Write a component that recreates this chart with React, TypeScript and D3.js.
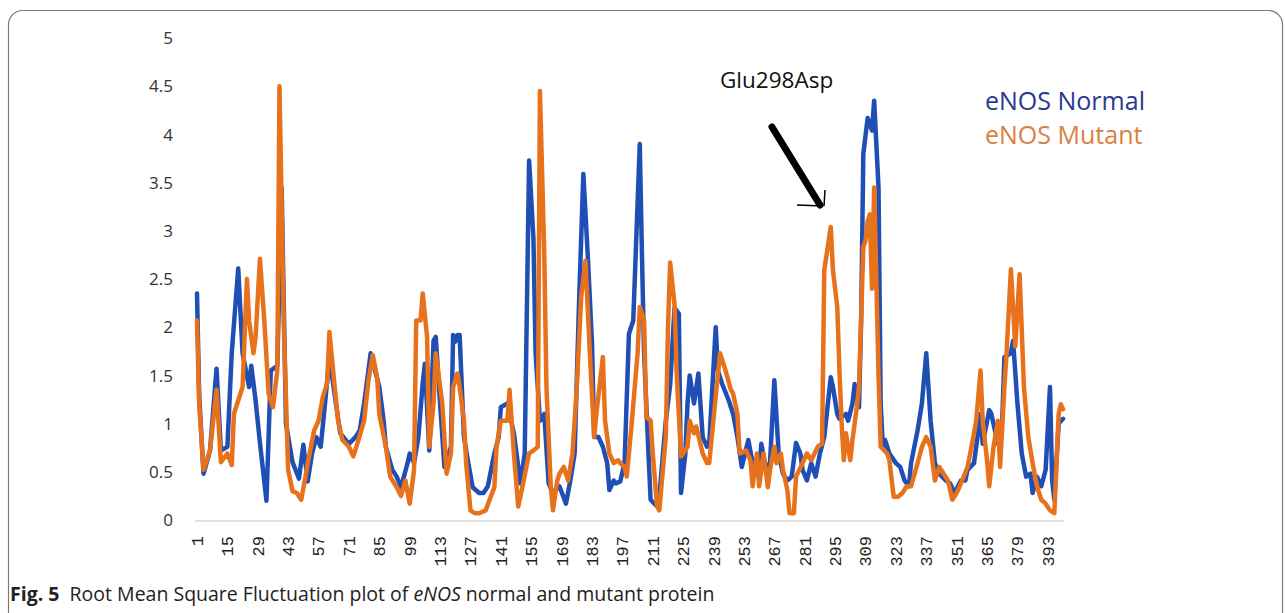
import React, { useRef, useEffect } from "react";
import * as d3 from "d3";

// residue numbers and RMSF values (nm)
const normalResidue = [
  1, 2, 4, 7, 10, 12, 15, 17, 20, 22, 25, 26, 28, 30, 33, 35, 38, 40, 42, 45,
  48, 50, 52, 54, 56, 58, 60, 62, 65, 67, 71, 74, 76, 78, 81, 85, 87, 88, 91, 93,
  95, 98, 99, 101, 103, 105, 106, 108, 110, 111, 113, 115, 118, 119, 120, 121, 122, 124, 126, 128,
  131, 133, 135, 138, 140, 141, 144, 146, 147, 150, 152, 154, 156, 157, 159, 161, 163, 165, 168, 171,
  173, 175, 177, 179, 181, 183, 184, 186, 188, 190, 191, 193, 194, 196, 198, 200, 202, 205, 206, 207,
  209, 210, 213, 214, 217, 219, 221, 223, 224, 226, 227, 228, 230, 232, 234, 236, 237, 240, 241, 243,
  246, 248, 250, 252, 255, 257, 260, 261, 263, 265, 267, 269, 271, 273, 275, 277, 279, 280, 282, 284,
  286, 288, 290, 293, 294, 296, 297, 300, 301, 303, 304, 306, 307, 308, 310, 312, 313, 315, 316, 317,
  318, 320, 323, 325, 327, 329, 330, 333, 335, 337, 339, 341, 343, 346, 348, 350, 353, 355, 356, 359,
  360, 362, 363, 366, 367, 370, 372, 373, 376, 377, 379, 381, 383, 385, 386, 388, 390, 392, 394, 395,
  396, 398, 400,
];
const normalRmsf = [
  2.35, 1.3, 0.48, 0.72, 1.57, 0.72, 0.76, 1.73, 2.61, 1.73, 1.38, 1.6, 1.24, 0.8, 0.2, 1.55, 1.6, 3.45, 1.0, 0.6,
  0.43, 0.78, 0.4, 0.69, 0.86, 0.76, 1.21, 1.69, 1.21, 0.9, 0.79, 0.86, 0.93, 1.21, 1.73, 1.38, 1.03, 0.76, 0.52, 0.45,
  0.34, 0.59, 0.69, 0.59, 0.86, 1.42, 1.62, 0.72, 1.86, 1.9, 1.21, 0.55, 0.76, 1.92, 1.85, 1.92, 1.92, 0.86, 0.59, 0.34,
  0.28, 0.28, 0.35, 0.69, 0.86, 1.17, 1.21, 1.0, 0.9, 0.38, 0.69, 3.73, 2.93, 1.73, 1.03, 1.1, 0.38, 0.28, 0.35, 0.17,
  0.41, 0.69, 2.24, 3.59, 2.76, 1.83, 0.86, 0.86, 0.76, 0.59, 0.31, 0.41, 0.38, 0.4, 0.59, 1.93, 2.07, 3.9, 2.76, 1.73,
  0.69, 0.21, 0.14, 0.24, 1.03, 1.4, 2.2, 2.14, 0.28, 0.69, 1.21, 1.5, 1.21, 1.52, 0.86, 0.76, 0.79, 2.0, 1.55, 1.41,
  1.24, 1.1, 0.86, 0.55, 0.83, 0.59, 0.48, 0.79, 0.55, 0.59, 1.45, 0.69, 0.48, 0.41, 0.45, 0.8, 0.69, 0.52, 0.41, 0.59,
  0.45, 0.69, 0.86, 1.48, 1.38, 1.1, 1.05, 1.1, 1.03, 1.21, 1.41, 1.17, 2.07, 3.8, 4.17, 4.04, 4.35, 3.45, 1.2, 0.76,
  0.83, 0.69, 0.59, 0.55, 0.41, 0.35, 0.59, 0.93, 1.21, 1.73, 1.03, 0.59, 0.48, 0.41, 0.38, 0.28, 0.41, 0.41, 0.52, 0.59,
  0.76, 1.1, 0.79, 1.14, 1.1, 0.79, 1.03, 1.69, 1.73, 1.86, 1.21, 0.69, 0.45, 0.48, 0.28, 0.45, 0.35, 0.52, 1.38, 0.41,
  0.21, 1.0, 1.05,
];

const mutantResidue = [
  1, 2, 4, 7, 10, 12, 15, 17, 18, 22, 24, 25, 27, 28, 30, 32, 34, 36, 38, 39,
  41, 43, 45, 47, 49, 51, 52, 55, 57, 59, 61, 62, 64, 66, 68, 71, 73, 75, 78, 80,
  82, 84, 85, 88, 90, 93, 95, 97, 99, 101, 102, 104, 105, 107, 108, 110, 111, 114, 116, 118,
  119, 121, 122, 124, 125, 127, 129, 131, 134, 138, 139, 141, 144, 145, 147, 149, 151, 154, 156, 158,
  159, 161, 162, 164, 165, 167, 168, 170, 172, 174, 176, 178, 180, 182, 184, 185, 188, 189, 191, 193,
  195, 196, 198, 199, 201, 204, 205, 207, 208, 210, 211, 213, 214, 217, 218, 219, 221, 222, 224, 225,
  227, 228, 230, 231, 234, 236, 237, 240, 242, 244, 247, 248, 250, 251, 254, 256, 257, 259, 260, 262,
  264, 265, 267, 268, 270, 271, 273, 274, 276, 277, 280, 282, 284, 287, 289, 290, 293, 294, 296, 297,
  298, 299, 300, 302, 303, 305, 306, 308, 309, 310, 311, 312, 313, 314, 315, 316, 319, 320, 322, 324,
  326, 328, 330, 333, 335, 337, 339, 341, 343, 345, 347, 349, 351, 353, 356, 357, 359, 360, 362, 363,
  365, 366, 368, 370, 371, 373, 374, 376, 378, 380, 382, 384, 386, 388, 390, 392, 394, 396, 398, 399,
  400,
];
const mutantRmsf = [
  2.07, 1.2, 0.52, 0.72, 1.35, 0.6, 0.69, 0.57, 1.1, 1.38, 2.5, 2.07, 1.73, 1.9, 2.71, 2.07, 1.31, 1.17, 1.55, 4.5,
  2.0, 0.52, 0.3, 0.28, 0.21, 0.45, 0.59, 0.93, 1.03, 1.28, 1.42, 1.95, 1.48, 1.03, 0.83, 0.76, 0.66, 0.8, 1.03, 1.45,
  1.71, 1.48, 1.1, 0.76, 0.45, 0.34, 0.25, 0.41, 0.17, 0.52, 2.07, 2.07, 2.35, 1.9, 0.76, 1.21, 1.73, 1.21, 0.48, 0.69,
  1.38, 1.52, 1.38, 1.03, 0.59, 0.1, 0.07, 0.07, 0.1, 0.34, 0.76, 1.03, 1.03, 1.35, 0.69, 0.14, 0.35, 0.69, 0.72, 0.76,
  4.45, 2.76, 1.38, 0.35, 0.1, 0.41, 0.48, 0.55, 0.41, 0.69, 1.38, 2.31, 2.69, 1.73, 0.86, 1.1, 1.69, 1.03, 0.69, 0.59,
  0.62, 0.59, 0.55, 0.45, 0.93, 1.73, 2.21, 2.07, 1.07, 1.03, 0.69, 0.14, 0.1, 0.86, 2.0, 2.67, 2.24, 1.52, 0.66, 0.69,
  0.76, 1.03, 0.9, 0.97, 0.69, 0.59, 0.59, 1.28, 1.73, 1.59, 1.35, 1.31, 1.1, 0.69, 0.72, 0.62, 0.35, 0.69, 0.35, 0.69,
  0.34, 0.52, 0.76, 0.59, 0.69, 0.52, 0.31, 0.07, 0.07, 0.45, 0.59, 0.69, 0.62, 0.76, 0.79, 2.59, 3.04, 2.59, 2.21, 1.55,
  1.0, 0.62, 0.9, 0.62, 0.83, 1.17, 1.38, 2.83, 2.9, 3.1, 3.17, 2.4, 3.45, 2.5, 1.5, 0.76, 0.69, 0.62, 0.24, 0.24,
  0.28, 0.35, 0.35, 0.59, 0.76, 0.86, 0.76, 0.41, 0.55, 0.48, 0.41, 0.21, 0.28, 0.38, 0.55, 0.66, 0.9, 1.03, 1.55, 1.03,
  0.62, 0.35, 0.76, 1.03, 0.55, 1.38, 1.73, 2.6, 1.8, 2.55, 1.38, 0.86, 0.59, 0.35, 0.21, 0.17, 0.1, 0.07, 1.1, 1.2,
  1.15,
];

const xTickLabels = [
  1, 15, 29, 43, 57, 71, 85, 99, 113, 127, 141, 155, 169, 183, 197, 211, 225, 239, 253, 267,
  281, 295, 309, 323, 337, 351, 365, 379, 393,
];
const yTickLabels = [0, 0.5, 1, 1.5, 2, 2.5, 3, 3.5, 4, 4.5, 5];

const seriesNames = ["eNOS Normal", "eNOS Mutant"];
const seriesColors = ["#1f4fb4", "#e8721c"];
const legendColors = ["#2b3a8f", "#d9813f"];

function RmsfChart() {
  const svgRef = useRef(null);

  const draw = () => {
    const svg = d3.select(svgRef.current);
    svg.selectAll("*").remove();

    const x = d3.scaleLinear().domain([1, 400]).range([197, 1063]);
    const y = d3.scaleLinear().domain([0, 5]).range([520, 38]);

    // figure frame (rounded box, bottom runs off the page)
    svg
      .append("rect")
      .attr("x", 8.5)
      .attr("y", 10.5)
      .attr("width", 1274)
      .attr("height", 700)
      .attr("rx", 14)
      .attr("fill", "none")
      .attr("stroke", "#7a7a7a")
      .attr("stroke-width", 1.2);

    // y tick labels, no axis line
    svg
      .append("g")
      .selectAll("text")
      .data(yTickLabels)
      .join("text")
      .attr("x", 173)
      .attr("y", d => y(d))
      .attr("dy", "0.36em")
      .attr("text-anchor", "end")
      .attr("font-family", "'Open Sans', sans-serif")
      .attr("font-size", 17)
      .attr("fill", "#333")
      .text(d => d);

    // category axis line
    svg
      .append("line")
      .attr("x1", x(1) - 2)
      .attr("x2", x(400) + 1)
      .attr("y1", y(0) + 1)
      .attr("y2", y(0) + 1)
      .attr("stroke", "#d4d4d4")
      .attr("stroke-width", 1.5);

    // rotated residue labels
    svg
      .append("g")
      .selectAll("text")
      .data(xTickLabels)
      .join("text")
      .attr("transform", d => "translate(" + x(d) + ",536) rotate(-90)")
      .attr("dy", "0.35em")
      .attr("text-anchor", "end")
      .attr("font-family", "'Liberation Mono', monospace")
      .attr("font-size", 17)
      .attr("fill", "#222")
      .text(d => d);

    const line = d3
      .line()
      .x(d => x(d[0]))
      .y(d => y(d[1]));

    const normal = normalResidue.map((r, i) => [r, normalRmsf[i]]);
    const mutant = mutantResidue.map((r, i) => [r, mutantRmsf[i]]);

    [normal, mutant].forEach((pts, i) => {
      svg
        .append("path")
        .datum(pts)
        .attr("d", line)
        .attr("fill", "none")
        .attr("stroke", seriesColors[i])
        .attr("stroke-width", 4.5)
        .attr("stroke-linejoin", "round")
        .attr("stroke-linecap", "round");
    });

    // legend
    svg
      .append("g")
      .selectAll("text")
      .data(seriesNames)
      .join("text")
      .attr("x", 985)
      .attr("y", (d, i) => 110 + i * 34)
      .attr("font-family", "'Open Sans', sans-serif")
      .attr("font-size", 25)
      .attr("fill", (d, i) => legendColors[i])
      .text(d => d);

    // mutation annotation
    svg
      .append("text")
      .attr("x", 720)
      .attr("y", 88)
      .attr("font-family", "'Open Sans', sans-serif")
      .attr("font-size", 22.5)
      .attr("fill", "#111")
      .text("Glu298Asp");

    svg
      .append("line")
      .attr("x1", 772)
      .attr("y1", 127)
      .attr("x2", 820)
      .attr("y2", 205)
      .attr("stroke", "#000")
      .attr("stroke-width", 7)
      .attr("stroke-linecap", "round");
    svg
      .append("path")
      .attr("d", "M797,205 L823,206 M825,190 L824,206")
      .attr("fill", "none")
      .attr("stroke", "#000")
      .attr("stroke-width", 1.5);

    // caption
    const cap = svg
      .append("text")
      .attr("x", 10)
      .attr("y", 601)
      .attr("font-family", "'Open Sans', sans-serif")
      .attr("font-size", 19.5)
      .attr("fill", "#222");
    cap.append("tspan").attr("font-weight", "bold").text("Fig. 5");
    cap.append("tspan").text("\u00a0 Root Mean Square Fluctuation plot of ");
    cap.append("tspan").attr("font-style", "italic").text("eNOS");
    cap.append("tspan").text(" normal and mutant protein");
  };

  useEffect(() => {
    draw();
  });

  return (
    <svg
      ref={svgRef}
      width={1285}
      height={613}
      style={{ position: "absolute", left: 0, top: 0, background: "#fff" }}
    ></svg>
  );
}

export default function App() {
  return <RmsfChart />;
}
